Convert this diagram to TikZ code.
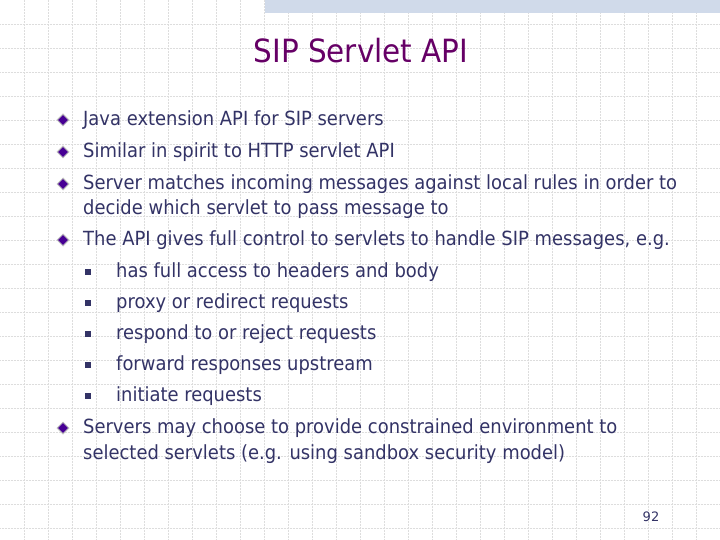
\documentclass[tikz,border=0pt]{standalone}
\usepackage{fontspec}
\setmainfont{DejaVu Sans}
\usetikzlibrary{shapes.geometric}
\definecolor{txt}{HTML}{333366}
\definecolor{ttl}{HTML}{660066}
\definecolor{gridc}{HTML}{DDDDDD}
\definecolor{band}{HTML}{D0DAEA}
\tikzset{
 body/.style={anchor=west,text=txt,font=\fontsize{19.5}{23}\selectfont\addfontfeatures{FakeStretch=0.92},inner sep=0pt},
 dia/.style={diamond,fill=ttl!70!blue,draw=gray!50,line width=1pt,minimum size=12pt,inner sep=0pt},
 sq/.style={fill=txt,minimum size=6pt,inner sep=0pt}
}
\begin{document}
\begin{tikzpicture}[x=1pt,y=-1pt]
\useasboundingbox (0,0) rectangle (720,540);
\fill[white] (0,0) rectangle (720,540);
\foreach \i in {1,...,29} \draw[gridc,densely dotted,line width=0.5pt] (\i*24,0) -- (\i*24,540);
\foreach \i in {1,...,22} \draw[gridc,densely dotted,line width=0.5pt] (0,\i*24) -- (720,\i*24);
\fill[band] (265,0) rectangle (720,13);
\node[text=ttl,font=\fontsize{32}{36}\selectfont\addfontfeatures{FakeStretch=0.92}] (title) at (361,51) {SIP Servlet API};
\foreach \y/\t [count=\k] in {120/Java extension API for SIP servers,152/Similar in spirit to HTTP servlet API,184/Server matches incoming messages against local rules in order to,240/{The API gives full control to servlets to handle SIP messages, e.g.},428/Servers may choose to provide constrained environment to}{
 \node[dia] (d\k) at (63,\y) {};
 \node[body] (t\k) at (83,\y) {\t};
}
\node[body] (c3) at (83,209) {decide which servlet to pass message to};
\node[body] (c5) at (83,454) {selected servlets (e.g. using sandbox security model)};
\foreach \y/\t [count=\k] in {272/has full access to headers and body,303/proxy or redirect requests,334/respond to or reject requests,365/forward responses upstream,396/initiate requests}{
 \node[sq] (s\k) at (88,\y) {};
 \node[body] (u\k) at (116,\y) {\t};
}
\node[text=txt,font=\fontsize{13}{15}\selectfont] (pg) at (651,517) {92};
\end{tikzpicture}
\end{document}
